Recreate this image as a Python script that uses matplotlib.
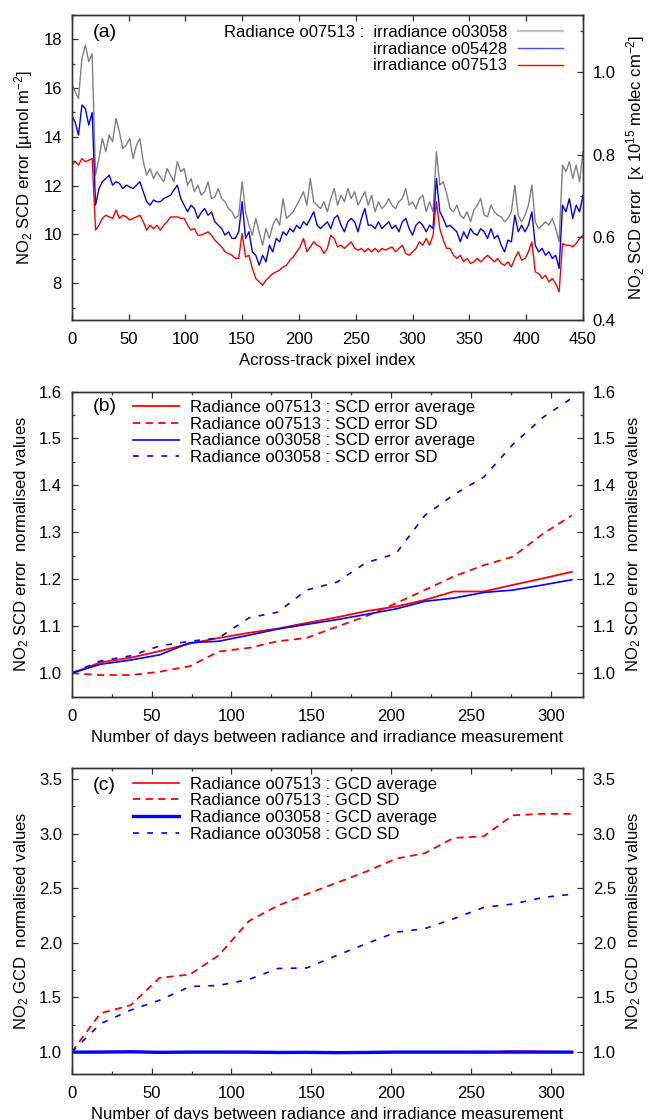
import numpy as np
import matplotlib
matplotlib.use("Agg")
import matplotlib.pyplot as plt
from matplotlib.lines import Line2D
from matplotlib.ticker import MultipleLocator

plt.rcParams['font.family'] = ['Liberation Sans', 'DejaVu Sans']
plt.rcParams['mathtext.fontset'] = 'custom'
plt.rcParams['mathtext.rm'] = 'Liberation Sans'
plt.rcParams['mathtext.it'] = 'Liberation Sans:italic'

# --------------------------------------------------
# (a) SCD error per across-track pixel (read every 3rd pixel)
# --------------------------------------------------
pixel_index = np.arange(0, 451, 3)

err_irr_o03058 = [
    16.19, 15.85, 15.57, 17.21, 17.76, 17.08, 17.4, 12.43, 13.11, 13.93, 13.39, 14.07, 13.8,
    14.75, 14.2, 13.52, 13.66, 13.93, 13.11, 13.66, 13.93, 12.98, 12.43, 12.7, 12.29, 12.57,
    12.36, 12.16, 12.7, 12.43, 12.16, 12.98, 12.57, 12.7, 12.02, 12.29, 11.75, 12.02,
    11.61, 11.75, 12.16, 11.47, 11.54, 11.88, 11.47, 11.34, 11.06, 10.93, 10.66, 10.79, 12.16,
    10.93, 10.38, 9.97, 10.66, 10.11, 9.56, 10.24, 9.84, 10.38, 10.66, 10.38, 11.47, 10.66,
    10.79, 10.93, 11.2, 11.47, 11.75, 11.2, 12.29, 11.34, 11.2, 11.06,
    11.34, 10.93, 11.47, 11.88, 11.2, 11.61, 11.34, 11.88, 11.47, 11.75, 11.2, 11.47, 11.75,
    11.2, 11.61, 10.93, 11.34, 11.06, 11.2, 11.47, 11.2, 11.06, 11.34, 11.47, 11.88, 11.2,
    11.34, 11.06, 11.47, 11.61, 10.93, 11.34, 10.93, 13.39, 12.02, 12.16, 11.68,
    11.06, 10.93, 11.2, 10.79, 10.66, 10.93, 10.52, 11.0, 11.2, 11.47, 10.79, 10.72, 11.2,
    10.93, 10.79, 10.72, 10.52, 10.66, 10.93, 12.02, 10.79, 10.52, 10.79, 11.2, 12.02, 10.52,
    10.24, 10.38, 10.52, 10.38, 10.66, 10.24, 9.7, 12.84, 12.57, 12.98, 12.29, 12.84, 12.16,
    13.39,
]

err_irr_o05428 = [
    14.89, 14.6, 14.07, 15.3, 15.16, 14.48, 15.0, 11.2, 11.88, 12.16, 12.29, 12.43, 12.02,
    12.16, 12.09, 11.88, 12.02, 11.95, 11.88, 12.02, 12.16, 11.75, 11.34, 11.2, 11.41, 11.34,
    11.34, 11.47, 11.54, 11.61, 11.82, 12.02, 11.47, 11.2, 10.93, 11.2, 11.06, 10.66,
    10.9, 11.06, 10.79, 10.93, 10.52, 10.38, 10.24, 9.97, 10.11, 9.84, 9.84, 10.11, 11.34,
    9.84, 10.11, 9.29, 9.15, 8.74, 9.15, 8.88, 9.56, 9.29, 9.84, 9.7, 10.11, 9.97,
    10.24, 10.11, 10.38, 10.24, 10.52, 10.38, 10.66, 10.93, 10.38, 10.24,
    10.38, 10.52, 10.24, 10.66, 10.79, 10.38, 10.11, 10.52, 10.66, 10.52, 10.11, 10.66, 11.06,
    10.38, 10.38, 10.24, 10.52, 10.24, 10.38, 10.52, 10.24, 10.38, 10.11, 10.52, 10.66, 10.24,
    9.97, 10.38, 10.52, 10.38, 10.11, 10.38, 10.24, 12.29, 10.93, 10.66, 10.31,
    10.38, 10.24, 10.11, 9.7, 10.11, 9.84, 10.24, 10.04, 9.97, 10.24, 10.11, 9.84, 10.24,
    9.84, 9.97, 9.56, 9.29, 9.77, 9.7, 10.79, 10.11, 10.38, 10.11, 10.38, 10.93, 9.56,
    9.29, 9.43, 9.15, 9.29, 9.02, 9.15, 8.61, 11.2, 10.93, 11.47, 10.66, 11.2, 10.93,
    11.61,
]

err_irr_o07513 = [
    12.84, 12.98, 12.84, 13.11, 12.98, 13.04, 13.11, 10.18, 10.38, 10.66, 10.79, 10.72, 10.66,
    11.0, 10.66, 10.79, 10.72, 10.59, 10.66, 10.72, 10.79, 10.52, 10.18, 10.38, 10.24, 10.38,
    10.18, 10.38, 10.52, 10.72, 10.72, 10.72, 10.66, 10.66, 10.38, 10.18, 10.24, 9.97,
    9.97, 10.04, 10.11, 9.97, 9.77, 9.63, 9.49, 9.29, 9.22, 9.15, 9.02, 9.02, 10.04,
    9.08, 9.15, 8.61, 8.2, 8.06, 7.92, 8.13, 8.27, 8.4, 8.47, 8.54, 8.67, 8.74,
    8.95, 9.08, 9.29, 9.49, 9.84, 9.29, 9.49, 9.7, 9.56, 9.49,
    9.22, 9.43, 9.97, 9.84, 9.49, 9.56, 9.43, 9.56, 9.7, 9.43, 9.36, 9.43, 9.29,
    9.43, 9.29, 9.43, 9.29, 9.43, 9.36, 9.43, 9.49, 9.29, 9.43, 9.56, 9.22, 9.15,
    9.29, 9.43, 9.7, 9.56, 9.84, 9.56, 9.97, 11.34, 10.24, 9.77, 9.43,
    9.43, 9.15, 9.02, 9.15, 8.88, 9.02, 8.81, 8.88, 9.02, 8.88, 9.02, 9.15, 9.02,
    8.88, 9.02, 8.81, 8.74, 8.88, 8.67, 9.02, 9.29, 8.95, 9.02, 9.29, 9.7, 8.47,
    8.4, 8.2, 8.33, 8.06, 8.2, 7.99, 7.65, 9.63, 9.56, 9.56, 9.49, 9.63, 9.84,
    9.97,
]

# --------------------------------------------------
# (b), (c) normalised values vs. days between measurements
# --------------------------------------------------
days = [0, 18, 37, 55, 74, 92, 111, 129, 147, 166, 184, 203, 221, 239, 258, 276, 295, 313]

scd_avg_o07513 = [1.0, 1.023, 1.033, 1.047, 1.063, 1.075, 1.086, 1.095, 1.107, 1.119, 1.132,
                  1.142, 1.156, 1.174, 1.174, 1.188, 1.202, 1.216]
scd_sd_o07513 = [1.0, 0.996, 0.996, 1.003, 1.015, 1.046, 1.054, 1.068, 1.075, 1.099, 1.121,
                 1.149, 1.177, 1.206, 1.23, 1.248, 1.297, 1.336]
scd_avg_o03058 = [1.0, 1.019, 1.028, 1.039, 1.065, 1.068, 1.081, 1.094, 1.104, 1.114, 1.125,
                  1.137, 1.153, 1.16, 1.172, 1.177, 1.188, 1.199]
scd_sd_o03058 = [1.0, 1.026, 1.037, 1.058, 1.068, 1.075, 1.118, 1.13, 1.177, 1.194, 1.235,
                 1.255, 1.336, 1.38, 1.418, 1.487, 1.545, 1.586]

gcd_avg_o07513 = [1.0, 1.005, 1.003, 1.0, 1.0, 1.0, 0.995, 0.99, 0.993, 0.995, 1.0, 1.0,
                  1.0, 1.0, 0.997, 1.01, 1.005, 1.0]
gcd_sd_o07513 = [1.0, 1.355, 1.43, 1.68, 1.71, 1.885, 2.2, 2.34, 2.445, 2.55, 2.65, 2.77,
                 2.82, 2.96, 2.975, 3.167, 3.18, 3.18]
gcd_avg_o03058 = [1.0, 1.0, 1.003, 0.998, 1.0, 1.0, 1.0, 0.997, 0.998, 0.995, 0.997, 1.0,
                  1.0, 1.0, 1.0, 1.0, 1.0, 1.0]
gcd_sd_o03058 = [1.0, 1.26, 1.385, 1.475, 1.6, 1.61, 1.665, 1.765, 1.77, 1.885, 1.99, 2.097,
                 2.13, 2.22, 2.325, 2.355, 2.415, 2.445]

FS = 12
FRAME = '#333333'


def style_axis(ax):
    for s in ax.spines.values():
        s.set_color(FRAME)
        s.set_linewidth(1.0)
    ax.tick_params(which='both', direction='in', colors=FRAME, labelcolor='black',
                   labelsize=FS, pad=7)
    ax.tick_params(axis='x', which='both', pad=9)
    ax.tick_params(which='major', length=4.5, width=0.9)
    ax.tick_params(which='minor', length=2.2, width=0.9)


fig = plt.figure(figsize=(6.5, 11.2), dpi=100)

# ------------------------------------------------------
# Panel (a)
# ------------------------------------------------------
ax_a = fig.add_axes([0.1103, 0.7143, 0.7866, 0.2726])
ax_a.plot(pixel_index, err_irr_o03058, color='#808080', lw=1.0)
ax_a.plot(pixel_index, err_irr_o05428, color='#0000ff', lw=1.0)
ax_a.plot(pixel_index, err_irr_o07513, color='#ff0000', lw=1.0)
ax_a.set_xlim(0, 450)
ax_a.set_ylim(6.5, 19)
ax_a.xaxis.set_major_locator(MultipleLocator(50))
ax_a.yaxis.set_major_locator(MultipleLocator(2))
ax_a.yaxis.set_minor_locator(MultipleLocator(1))
style_axis(ax_a)
ax_a.tick_params(axis='x', top=True)
ax_a.set_xlabel("Across-track pixel index", fontsize=FS, labelpad=4)
ax_a.set_ylabel(r"NO$_2$ SCD error [µmol m$^{-2}$]", fontsize=FS, labelpad=6)
ax_a.text(0.042, 0.94, "(a)", transform=ax_a.transAxes, fontsize=14, va='center')

ax_a2 = ax_a.twinx()
ax_a2.set_ylim(0.4, 1.14)
ax_a2.yaxis.set_major_locator(MultipleLocator(0.2))
ax_a2.yaxis.set_minor_locator(MultipleLocator(0.1))
ax_a2.yaxis.set_major_formatter(lambda v, p: f"{v:.1f}")
style_axis(ax_a2)
ax_a2.set_ylabel(r"NO$_2$ SCD error  [x 10$^{15}$ molec cm$^{-2}$]", fontsize=FS, labelpad=6)

proxies = [Line2D([], [], color='#c4c4c4', lw=1.6),
           Line2D([], [], color='#4a4aff', lw=1.0),
           Line2D([], [], color='#ff0000', lw=1.0)]
ax_a.legend(proxies, ["Radiance o07513 :  irradiance o03058", "irradiance o05428",
                      "irradiance o07513"],
            loc='upper right', bbox_to_anchor=(0.961, 0.966), frameon=False,
            markerfirst=False, fontsize=FS, handlelength=2.7, handletextpad=0.66,
            labelspacing=0.1, borderpad=0, borderaxespad=0)

# ------------------------------------------------------
# Panels (b) and (c)
# ------------------------------------------------------
xlabel_days = "Number of days between radiance and irradiance measurement"


def days_panel(rect, series, labels, ylim, major, minor, ylabel, letter, letter_y):
    ax = fig.add_axes(rect)
    handles = []
    for vals, color, ls, lw in series:
        h, = ax.plot(days, vals, color=color, lw=lw)
        if ls is not None:
            h.set_dashes(ls)
        handles.append(h)
    ax.set_xlim(0, 320)
    ax.set_ylim(*ylim)
    ax.xaxis.set_major_locator(MultipleLocator(50))
    ax.xaxis.set_minor_locator(MultipleLocator(25))
    ax.yaxis.set_major_locator(MultipleLocator(major))
    ax.yaxis.set_minor_locator(MultipleLocator(minor))
    ax.yaxis.set_major_formatter(lambda v, p: f"{v:.1f}")
    style_axis(ax)
    ax.tick_params(axis='x', which='both', top=True)
    ax.set_xlabel(xlabel_days, fontsize=FS, labelpad=4)
    ax.set_ylabel(ylabel, fontsize=FS, labelpad=6)
    ax.text(0.042, letter_y, letter, transform=ax.transAxes, fontsize=14, va='center')

    ax2 = ax.twinx()
    ax2.set_ylim(*ylim)
    ax2.yaxis.set_major_locator(MultipleLocator(major))
    ax2.yaxis.set_minor_locator(MultipleLocator(minor))
    ax2.yaxis.set_major_formatter(lambda v, p: f"{v:.1f}")
    style_axis(ax2)
    ax2.set_ylabel(ylabel, fontsize=FS, labelpad=6)

    ax.legend(handles, labels, loc='upper left', bbox_to_anchor=(0.12, 0.972),
              frameon=False, fontsize=FS, handlelength=2.75, handletextpad=0.66,
              labelspacing=0.1, borderpad=0, borderaxespad=0)
    return ax


days_panel([0.1103, 0.378, 0.7866, 0.2724],
           [(scd_avg_o07513, '#ff0000', None, 1.3),
            (scd_sd_o07513, '#ff0000', (4, 3), 1.3),
            (scd_avg_o03058, '#0000ff', None, 1.2),
            (scd_sd_o03058, '#0000ff', (3.5, 5), 1.2)],
           ["Radiance o07513 : SCD error average", "Radiance o07513 : SCD error SD",
            "Radiance o03058 : SCD error average", "Radiance o03058 : SCD error SD"],
           (0.95, 1.6), 0.1, 0.05,
           r"NO$_2$ SCD error  normalised values", "(b)", 0.951)

days_panel([0.1103, 0.0411, 0.7866, 0.2732],
           [(gcd_avg_o07513, '#ff0000', None, 1.2),
            (gcd_sd_o07513, '#ff0000', (4, 3), 1.3),
            (gcd_avg_o03058, '#0000ff', None, 2.4),
            (gcd_sd_o03058, '#0000ff', (3.5, 5), 1.2)],
           ["Radiance o07513 : GCD average", "Radiance o07513 : GCD SD",
            "Radiance o03058 : GCD average", "Radiance o03058 : GCD SD"],
           (0.8, 3.6), 0.5, 0.25,
           r"NO$_2$ GCD  normalised values", "(c)", 0.944)

fig.savefig("out.png", dpi=100)
